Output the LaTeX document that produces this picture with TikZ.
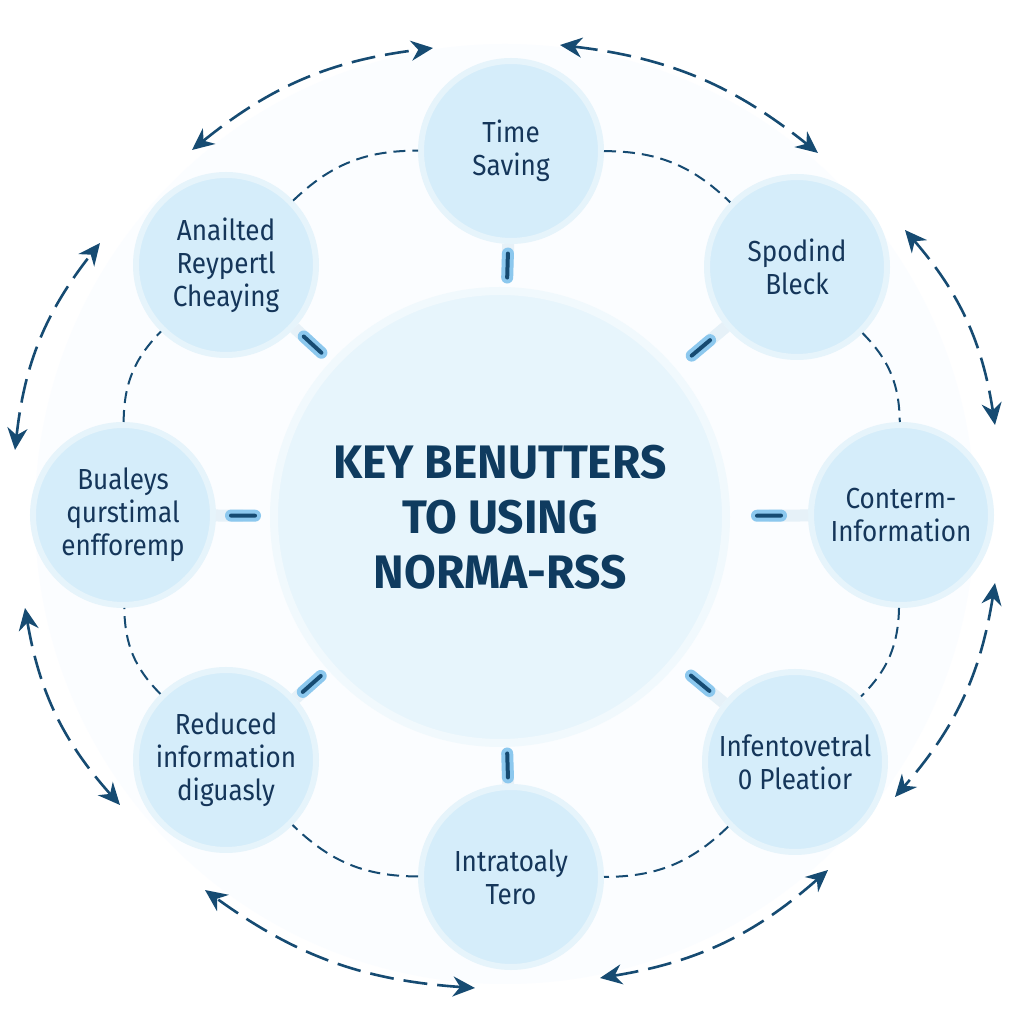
\documentclass[tikz,border=0pt]{standalone}
\usepackage{fontspec}
\setmainfont{Fira Sans}[FakeStretch=0.9]
\newfontfamily\titlefont{Fira Sans}[FakeStretch=0.98]
\usetikzlibrary{arrows.meta,calc}
\definecolor{navy}{HTML}{164B72}
\definecolor{textnavy}{HTML}{15365A}
\definecolor{titlenavy}{HTML}{0F3B5F}
\definecolor{nodefill}{HTML}{D5EDFA}
\definecolor{nodering}{HTML}{E6F4FB}
\definecolor{centerfill}{HTML}{E7F5FC}
\definecolor{centerring}{HTML}{F1F9FD}
\definecolor{markblue}{HTML}{8CC8EE}
\definecolor{stubblue}{HTML}{E6F1F8}
\definecolor{bgblue}{HTML}{FBFDFF}
\tikzset{
  benefit/.style={circle, fill=nodefill, draw=nodering, line width=3pt,
    minimum size=90pt, inner sep=0pt, align=center, text=textnavy,
    font=\fontsize{14.5}{16.5}\selectfont},
  hub/.style={circle, fill=centerfill, draw=centerring, line width=4pt,
    minimum size=226pt, inner sep=0pt, align=center, text=titlenavy,
    font=\titlefont\bfseries\fontsize{23.5}{27.5}\selectfont},
  ringline/.style={draw=navy, line width=1pt, dash pattern=on 6pt off 3.5pt},
  outerarrow/.style={draw=navy, line width=1.3pt, dash pattern=on 12pt off 5pt,
    arrows={Stealth[length=11pt,width=10pt]-Stealth[length=11pt,width=10pt]}},
  stub/.style={draw=stubblue, line width=6pt},
  markline/.style={draw=markblue, double=navy, line width=2pt,
    double distance=2pt, line cap=round}
}
\begin{document}
\begin{tikzpicture}[x=0.5pt, y=0.5pt]
\useasboundingbox (0,0) rectangle (1024,1024);
\fill[white] (0,0) rectangle (1024,1024);
\fill[bgblue] (505,510) circle (470);

% hub and benefit nodes
\node[hub] (c) at (500,507) {KEY BENUTTERS\\TO USING\\NORMA-RSS};
\node[benefit] (ts) at (511,873) {Time\\Saving};
\node[benefit] (sb) at (797,757) {Spodind\\Bleck};
\node[benefit] (ci) at (901,509) {Conterm-\\Information};
\node[benefit] (ip) at (795,262) {Infentovetral\\0 Pleatior};
\node[benefit] (it) at (511,147) {Intratoaly\\Tero};
\node[benefit] (rd) at (226,264) {Reduced\\information\\diguasly};
\node[benefit] (bq) at (123,509) {Bualeys\\qurstimal\\enfforemp};
\node[benefit] (ar) at (226,759) {Anailted\\Reypertl\\Cheaying};

% inner dashed ring
\draw[ringline] (ts) to[bend left=22] (sb);
\draw[ringline] (sb) to[bend left=22] (ci);
\draw[ringline] (ci) to[bend left=22] (ip);
\draw[ringline] (ip) to[bend left=22] (it);
\draw[ringline] (it) to[bend left=22] (rd);
\draw[ringline] (rd) to[bend left=22] (bq);
\draw[ringline] (bq) to[bend left=22] (ar);
\draw[ringline] (ar) to[bend left=22] (ts);

% spokes to hub: short markers in the gap
\foreach \n in {ts,sb,ci,ip,it,rd,bq,ar}{
  \path (\n) -- (c) coordinate[pos=0.5] (m\n) coordinate[pos=0] (s\n);
  \draw[stub] (\n) -- (m\n);
  \draw[markline] ($(m\n)!6pt!(\n)$) -- ($(m\n)!6pt!(c)$);
}

% outer double-headed arrows
\coordinate (a1s) at (192,874); \coordinate (a1e) at (433,976);
\coordinate (a2s) at (560,979); \coordinate (a2e) at (818,871);
\coordinate (a3s) at (905,794); \coordinate (a3e) at (995,599);
\coordinate (a4s) at (995,441); \coordinate (a4e) at (895,227);
\coordinate (a5s) at (828,154); \coordinate (a5e) at (600,46);
\coordinate (a6s) at (475,36);  \coordinate (a6e) at (205,134);
\coordinate (a7s) at (120,219); \coordinate (a7e) at (25,416);
\coordinate (a8s) at (15,574);  \coordinate (a8e) at (100,781);
\foreach \i in {1,...,8}{
  \draw[outerarrow] (a\i s) to[bend left=16] (a\i e);
}
\end{tikzpicture}
\end{document}
